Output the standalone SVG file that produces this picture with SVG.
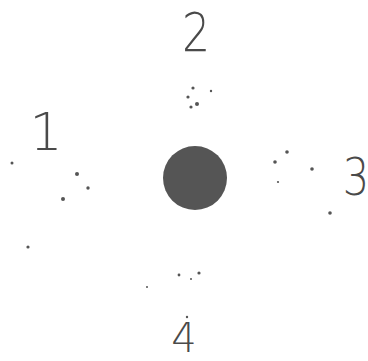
<svg xmlns="http://www.w3.org/2000/svg" width="368" height="361" viewBox="0 0 368 361">
<style>
.num{font-family:"DejaVu Sans","Liberation Sans",sans-serif;font-weight:200;fill:#4a4a4a;text-anchor:middle}
.d{fill:#555}
</style>
<rect width="368" height="361" fill="#fff"/>
<g id="center"><circle cx="195" cy="178" r="32" fill="#555"/></g>
<g id="n2">
<text class="num" x="196" y="51" font-size="54" transform="translate(196 0) scale(0.82 1) translate(-196 0)">2</text>
<circle class="d" cx="193" cy="88" r="1.6"/><circle class="d" cx="211" cy="91" r="1.2"/><circle class="d" cx="188" cy="97" r="1.6"/><circle class="d" cx="197" cy="104" r="2"/><circle class="d" cx="191" cy="107" r="1.6"/>
</g>
<g id="n1">
<text class="num" x="46" y="150" font-size="52">1</text>
<circle class="d" cx="12" cy="163" r="1.5"/><circle class="d" cx="77" cy="174" r="2"/><circle class="d" cx="88" cy="188" r="1.7"/><circle class="d" cx="63" cy="199" r="2"/><circle class="d" cx="28" cy="247" r="1.6"/>
</g>
<g id="n3">
<text class="num" x="356" y="195" font-size="52" transform="translate(356 0) scale(0.8 1) translate(-356 0)">3</text>
<circle class="d" cx="287" cy="152" r="1.8"/><circle class="d" cx="275" cy="162" r="1.8"/><circle class="d" cx="312" cy="169" r="1.8"/><circle class="d" cx="278" cy="182" r="1.1"/><circle class="d" cx="330" cy="213" r="1.8"/>
</g>
<g id="n4">
<text class="num" x="184" y="352" font-size="40">4</text>
<circle class="d" cx="179" cy="275" r="1.4"/><circle class="d" cx="199" cy="273" r="1.6"/><circle class="d" cx="191" cy="279" r="1"/><circle class="d" cx="147" cy="287" r="1"/><circle class="d" cx="187" cy="317" r="1.2"/>
</g>
</svg>
